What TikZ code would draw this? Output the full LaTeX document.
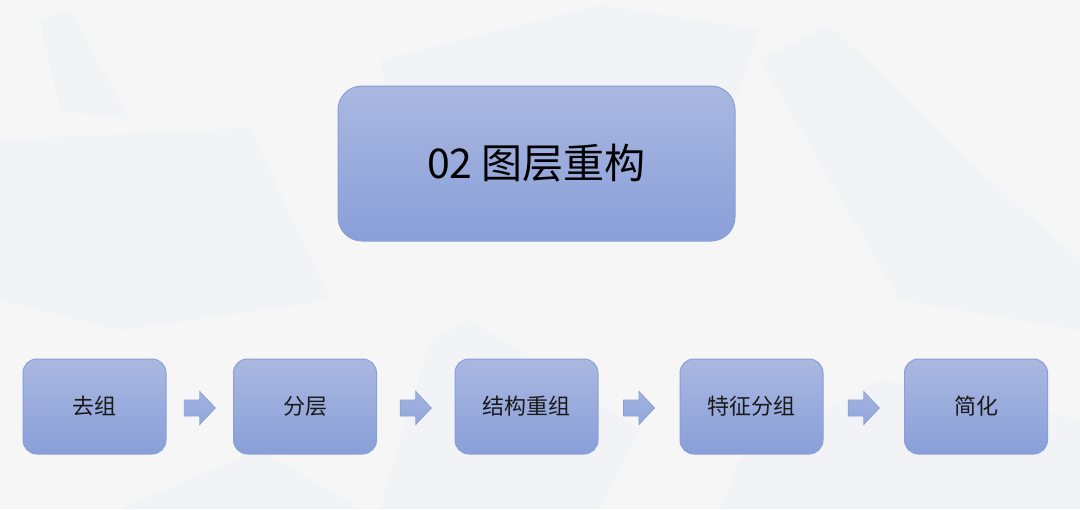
\documentclass[tikz,border=0pt]{standalone}
\usepackage{fontspec}
\setmainfont{Noto Sans CJK SC}
\usetikzlibrary{calc}
\definecolor{bgc}{HTML}{F6F6F7}
\definecolor{bgshape}{HTML}{EEF0F5}
\definecolor{boxtop}{HTML}{AAB8E1}
\definecolor{boxbot}{HTML}{899FD8}
\definecolor{boxline}{HTML}{8A9FD6}
\definecolor{arrtop}{HTML}{A3B3E0}
\definecolor{arrbot}{HTML}{92A7DB}
\tikzset{
  titlebox/.style={draw=boxline, line width=0.5pt, top color=boxtop, bottom color=boxbot,
    rounded corners=12pt, minimum width=198.5pt, minimum height=77.5pt, inner sep=0pt,
    font=\fontsize{20.5}{23}\selectfont, text=black},
  stepbox/.style={draw=boxline, line width=0.5pt, top color=boxtop, bottom color=boxbot,
    rounded corners=7pt, minimum width=71.5pt, minimum height=47.5pt, inner sep=0pt,
    font=\fontsize{11}{13}\selectfont, text=black!90},
  bgpoly/.style={fill=bgshape, opacity=0.45},
  blockarrow/.pic={
    \path[draw=boxline, line width=0.4pt, top color=arrtop, bottom color=arrbot]
      (-15.5,-8) -- (0,-8) -- (0,-16.5) -- (15.5,0) -- (0,16.5) -- (0,8) -- (-15.5,8) -- cycle;
  }
}
\begin{document}
\begin{tikzpicture}[x=0.5pt,y=-0.5pt]
\useasboundingbox (0,0) rectangle (1080,509);
\fill[bgc] (0,0) rectangle (1080,509);
% faint background shapes
\fill[bgpoly] (0,140) -- (250,128) -- (330,300) -- (120,330) -- (0,300) -- cycle;
\fill[bgpoly] (380,60) -- (600,5) -- (760,30) -- (700,200) -- (420,230) -- cycle;
\fill[bgpoly] (760,60) -- (830,25) -- (1000,190) -- (1080,260) -- (1080,330) -- (900,300) -- cycle;
\fill[bgpoly] (40,20) -- (70,10) -- (130,120) -- (60,110) -- cycle;
\fill[bgpoly] (430,340) -- (470,320) -- (640,430) -- (600,509) -- (380,509) -- cycle;
\fill[bgpoly] (740,460) -- (880,380) -- (1080,420) -- (1080,509) -- (720,509) -- cycle;
\fill[bgpoly] (120,509) -- (260,450) -- (360,509) -- cycle;

\node[titlebox] (title) at (536.5,163.5) {02 图层重构};

\node[stepbox] (s1) at (94.5,406.5) {去组};
\node[stepbox] (s2) at (305,406.5) {分层};
\node[stepbox] (s3) at (526.5,406.5) {结构重组};
\node[stepbox] (s4) at (751.5,406.5) {特征分组};
\node[stepbox] (s5) at (976,406.5) {简化};

\pic at ($(s1.east)!0.5!(s2.west)+(0,1.5)$) {blockarrow};
\pic at ($(s2.east)!0.5!(s3.west)+(0,1.5)$) {blockarrow};
\pic at ($(s3.east)!0.5!(s4.west)+(0,1.5)$) {blockarrow};
\pic at ($(s4.east)!0.5!(s5.west)+(0,1.5)$) {blockarrow};
\end{tikzpicture}
\end{document}
